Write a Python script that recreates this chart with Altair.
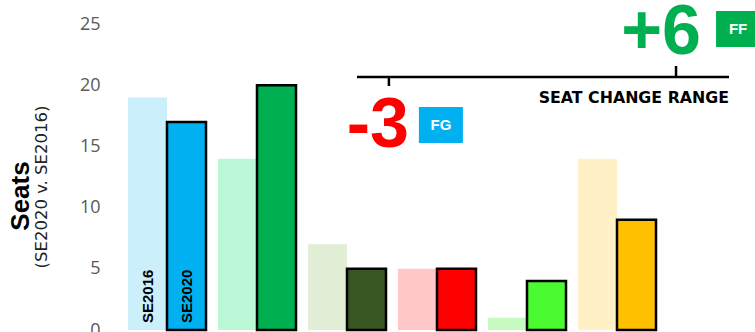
import altair as alt
import pandas as pd

# ---- data ----
parties = ["FG", "FF", "SF", "LAB", "GP", "IND"]
years = ["SE2016", "SE2020"]
seats_2016 = [19, 14, 7, 5, 1, 14]
seats_2020 = [17, 20, 5, 5, 4, 9]
colors_2016 = ["#CCEFFC", "#BBF8D8", "#E1EDD5", "#FFC7C7", "#C6FAC0", "#FFF0C6"]
colors_2020 = ["#00B0F0", "#00B050", "#375623", "#FF0000", "#4BFB32", "#FFC000"]

change_parties = ["FG", "FF"]
change_values = [-3, 6]
change_text_colors = ["#FF0000", "#00B050"]
change_box_colors = ["#00B0F0", "#00B050"]
range_ends = [-4, 7.66]
range_label = "SEAT CHANGE RANGE"

y_title = "Seats"
y_subtitle = "(SE2020 v. SE2016)"
y_ticks = [0, 5, 10, 15, 20, 25]

# ---- tables ----
rows = []
for i, p in enumerate(parties):
    rows.append({"party": p, "year": "SE2016", "seats": seats_2016[i], "color": colors_2016[i]})
    rows.append({"party": p, "year": "SE2020", "seats": seats_2020[i], "color": colors_2020[i]})
df = pd.DataFrame(rows)

chg = pd.DataFrame({
    "party": change_parties,
    "change": change_values,
    "tcolor": change_text_colors,
    "bcolor": change_box_colors,
})
line_df = pd.DataFrame({"lo": [range_ends[0]], "hi": [range_ends[1]], "label": [range_label]})
title_df = pd.DataFrame({"t": [y_title], "s": [y_subtitle]})

W, H = 564, 306

x_band = alt.X("party:N", sort=parties, axis=None,
               scale=alt.Scale(domain=parties, paddingInner=0.1333, paddingOuter=0.2))
x_off = alt.XOffset("year:N", scale=alt.Scale(domain=years, paddingInner=0, paddingOuter=0))

bars = alt.Chart(df).mark_bar(stroke="black").encode(
    x=x_band,
    xOffset=x_off,
    y=alt.Y("seats:Q", scale=alt.Scale(domain=[0, 25], nice=False),
            axis=alt.Axis(values=y_ticks, labelFont="Open Sans", labelFontSize=18,
                          labelColor="#595959", domain=False, ticks=False, grid=False,
                          title=None, labelPadding=10)),
    color=alt.Color("color:N", scale=None),
    strokeWidth=alt.condition("datum.year == 'SE2020'", alt.value(2.5), alt.value(0)),
)

bar_labels = alt.Chart(df).transform_filter(
    alt.datum.party == parties[0]
).mark_text(angle=270, align="left", baseline="middle", font="Liberation Sans",
            fontWeight="bold", fontSize=15, color="black", dx=7).encode(
    x=x_band,
    xOffset=x_off,
    y=alt.value(H),
    text="year:N",
)

x_ann = alt.Scale(domain=range_ends, range=[247, 619], nice=False, zero=False)

range_line = alt.Chart(line_df).mark_rule(color="black", strokeWidth=2.5).encode(
    x=alt.X("lo:Q", scale=x_ann, axis=None),
    x2="hi:Q",
    y=alt.value(53),
)
range_text = alt.Chart(line_df).mark_text(align="right", baseline="alphabetic",
                                          font="DejaVu Sans", fontWeight="bold",
                                          fontSize=15.8, color="black").encode(
    x=alt.X("hi:Q", scale=x_ann, axis=None),
    y=alt.value(79),
    text="label:N",
)


def change_layers(flt, tick_y, tick_y2, text_dx, text_y, box_x1, box_x2, box_y1, box_y2):
    base = alt.Chart(chg).transform_filter(flt).transform_calculate(
        label="datum.change > 0 ? '+' + datum.change : '' + datum.change"
    )
    xq = alt.X("change:Q", scale=x_ann, axis=None)
    tick = base.mark_rule(color="black", strokeWidth=2.5).encode(
        x=xq, y=alt.value(tick_y), y2=alt.value(tick_y2))
    big = base.mark_text(align="right", baseline="alphabetic", font="Liberation Sans",
                         fontWeight="bold", fontSize=70, dx=text_dx).encode(
        x=xq, y=alt.value(text_y), text="label:N",
        color=alt.Color("tcolor:N", scale=None))
    box = base.mark_rect(xOffset=box_x1, x2Offset=box_x2).encode(
        x=xq, x2="change:Q", y=alt.value(box_y1), y2=alt.value(box_y2),
        color=alt.Color("bcolor:N", scale=None))
    box_txt = base.mark_text(align="center", baseline="middle", font="Liberation Sans",
                             fontWeight="bold", fontSize=15, color="white",
                             dx=(box_x1 + box_x2) / 2).encode(
        x=xq, y=alt.value((box_y1 + box_y2) / 2), text="party:N")
    return [tick, big, box, box_txt]


neg = change_layers(alt.datum.change < 0, 53, 62, 20, 123, 30, 74, 83, 119)
pos = change_layers(alt.datum.change > 0, 42, 53, 25, 30, 40, 84, -13, 23)

title_main = alt.Chart(title_df).mark_text(angle=270, align="center", baseline="middle",
                                           font="Liberation Sans", fontSize=26,
                                           fontWeight="bold", color="black").encode(
    x=alt.value(-89), y=alt.value(172), text="t:N")
title_sub = alt.Chart(title_df).mark_text(angle=270, align="center", baseline="middle",
                                          font="DejaVu Sans", fontSize=16.5,
                                          color="#222222").encode(
    x=alt.value(-68), y=alt.value(163), text="s:N")

chart = alt.layer(
    bars, bar_labels, range_line, range_text, *neg, *pos, title_main, title_sub
).resolve_scale(x="independent").properties(
    width=W, height=H,
    autosize=alt.AutoSizeParams(type="none"),
    padding={"left": 110, "top": 24, "right": 81, "bottom": 2},
    background="white",
).configure_view(stroke=None)

chart.save("out.html", embed_options={"renderer": "svg", "actions": False})
